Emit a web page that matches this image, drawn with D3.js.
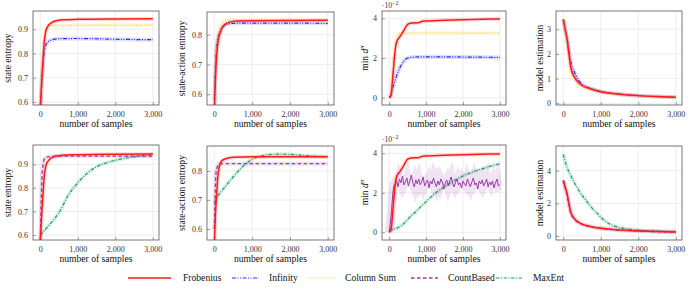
<!DOCTYPE html>
<html>
<head>
<meta charset="utf-8">
<script src="https://cdn.jsdelivr.net/npm/d3@7"></script>
<style>
  body { margin: 0; background: #fff; }
  text { font-family: "Liberation Serif", "Times New Roman", serif; fill: #111; }
</style>
</head>
<body>
<div id="chart"></div>
<script>
// ---- data ----
var xTicks = [0, 1000, 2000, 3000];
var methods = ["Frobenius", "Infinity", "Column Sum", "CountBased", "MaxEnt"];

// row 1 : state entropy
var p1Frob = [[0,0.57],[25,0.65],[50,0.72],[75,0.78],[100,0.84],[150,0.895],[200,0.912],[300,0.927],[400,0.934],[600,0.939],[1000,0.941],[2000,0.943],[3000,0.944]];
var p1Inf = [[0,0.57],[50,0.70],[100,0.80],[150,0.835],[200,0.847],[300,0.856],[500,0.861],[1000,0.862],[2000,0.859],[3000,0.857]];
var p1Col = [[0,0.57],[50,0.72],[100,0.84],[150,0.895],[200,0.91],[300,0.916],[1000,0.917],[3000,0.917]];

// row 1 : state-action entropy
var p2Frob = [[0,0.55],[25,0.64],[50,0.71],[75,0.75],[100,0.78],[150,0.805],[200,0.822],[300,0.836],[400,0.842],[600,0.846],[1000,0.847],[3000,0.848]];
var p2Inf = [[0,0.58],[50,0.75],[100,0.79],[200,0.822],[300,0.833],[500,0.838],[1000,0.839],[3000,0.838]];
var p2Col = [[0,0.55],[50,0.73],[100,0.80],[200,0.838],[300,0.848],[400,0.85],[1000,0.85],[3000,0.85]];

// row 1 : min d^pi (x 10^-2)
var p3Frob = [[0,0],[50,0.15],[100,1.1],[150,2.2],[200,2.8],[300,3.1],[400,3.4],[500,3.7],[600,3.76],[800,3.78],[900,3.85],[1500,3.9],[2000,3.93],[3000,3.97]];
var p3Inf = [[0,0],[50,0.1],[100,0.5],[150,0.8],[200,1.1],[300,1.55],[400,1.85],[500,2.0],[700,2.05],[1000,2.06],[2000,2.05],[3000,2.03]];
var p3Col = [[0,0],[50,0.15],[100,1.1],[150,2.2],[200,2.9],[300,3.25],[1000,3.25],[3000,3.25]];

// row 1 : model estimation
var p4Frob = [[0,3.4],[50,3.0],[100,2.6],[150,2.0],[200,1.45],[300,1.05],[400,0.85],[500,0.72],[700,0.6],[1000,0.47],[1500,0.37],[2000,0.31],[2500,0.27],[3000,0.24]];
var p4Inf = [[0,3.4],[50,3.0],[100,2.65],[150,2.15],[200,1.7],[300,1.25],[400,0.95],[500,0.78],[700,0.62],[1000,0.48],[1500,0.37],[2000,0.31],[3000,0.24]];
var p4Col = [[0,3.4],[100,2.55],[200,1.35],[300,1.0],[400,0.8],[500,0.68],[700,0.57],[1000,0.46],[2000,0.3],[3000,0.24]];

// row 2 : state entropy
var p5Frob = [[0,0.57],[25,0.65],[50,0.72],[75,0.78],[100,0.84],[150,0.895],[200,0.912],[300,0.927],[400,0.934],[600,0.939],[1000,0.941],[2000,0.943],[3000,0.944]];
var p5Count = [[0,0.58],[25,0.75],[50,0.86],[75,0.90],[100,0.92],[150,0.93],[200,0.932],[500,0.935],[3000,0.935]];
var p5Max = [[0,0.6],[250,0.645],[500,0.695],[750,0.77],[1000,0.822],[1250,0.862],[1500,0.89],[1750,0.906],[2000,0.917],[2500,0.932],[3000,0.94]];

// row 2 : state-action entropy
var p6Frob = [[0,0.55],[25,0.64],[50,0.70],[100,0.79],[150,0.825],[200,0.835],[300,0.842],[500,0.847],[1000,0.849],[3000,0.849]];
var p6Count = [[0,0.6],[25,0.74],[50,0.80],[100,0.82],[200,0.825],[3000,0.825]];
var p6Max = [[0,0.69],[100,0.715],[250,0.74],[500,0.78],[750,0.815],[1000,0.84],[1250,0.852],[1500,0.857],[1750,0.858],[2000,0.857],[2500,0.852],[3000,0.849]];

// row 2 : min d^pi (x 10^-2)
var p7Frob = p3Frob;
var p7CountStart = [[0,0],[50,0.8],[100,2.0],[130,2.4]];
var p7CountNoisy = [2.45,2.6,2.3,2.7,2.5,2.85,2.4,2.55,2.75,2.35,2.6,2.9,2.5,2.3,2.65,2.45,2.7,2.4,2.55,2.8,
  2.35,2.5,2.65,2.25,2.6,2.45,2.75,2.5,2.3,2.6,2.4,2.7,2.55,2.2,2.5,2.65,2.35,2.6,2.8,2.45,
  2.3,2.55,2.7,2.4,2.5,2.25,2.6,2.45,2.35,2.7,2.5,2.3,2.55,2.75,2.4,2.5,2.2,2.6,2.45,2.65,
  2.35,2.5,2.7,2.3,2.55,2.4,2.6,2.25,2.5,2.7,2.35,2.4];
var p7Max = [[0,0.1],[100,0.15],[200,0.2],[300,0.3],[400,0.45],[500,0.65],[600,0.85],[700,1.0],[800,1.2],[1000,1.55],[1250,1.98],[1500,2.3],[1750,2.6],[2000,2.85],[2250,3.05],[2500,3.2],[2750,3.35],[3000,3.47]];

// row 2 : model estimation
var p8Frob = p4Frob;
var p8Count = [[0,3.4],[50,2.95],[100,2.5],[150,1.9],[200,1.4],[300,1.02],[500,0.72],[1000,0.47],[2000,0.31],[3000,0.24]];
var p8Max = [[0,5.0],[100,4.2],[200,3.7],[300,3.25],[400,2.85],[500,2.5],[600,2.2],[700,1.9],[800,1.62],[900,1.4],[1000,1.15],[1250,0.72],[1500,0.52],[1750,0.42],[2000,0.36],[2500,0.3],[3000,0.26]];

// ---- styles ----
var style = {
  "Frobenius":  { color: "#ff1a1a", dash: null,            width: 1.5 },
  "Infinity":   { color: "#2b2bff", dash: "4,1.5,1,1.5,1,1.5", width: 1.2 },
  "Column Sum": { color: "#f7cf4a", dash: "1,1.6",         width: 1.2 },
  "CountBased": { color: "#9c3aa8", dash: "3.5,2.5",       width: 1.3 },
  "MaxEnt":     { color: "#1f9e63", dash: "3.5,1.5,1,1.5", width: 1.2 }
};

var p7Count = p7CountStart.concat(p7CountNoisy.map(function (v, i) { return [160 + i * 40, v]; }));

var panels = [
  { box: [33, 159, 11, 105], y: [0.5876, 0.9755], ticks: [0.6, 0.7, 0.8, 0.9], fmt: d3.format(".1f"), label: "state entropy", lx: 8,
    series: [["Infinity", p1Inf], ["Column Sum", p1Col], ["Frobenius", p1Frob]] },
  { box: [207, 334, 12, 105], y: [0.564, 0.876], ticks: [0.6, 0.7, 0.8], fmt: d3.format(".1f"), label: "state-action entropy", lx: 182,
    series: [["Infinity", p2Inf], ["Column Sum", p2Col], ["Frobenius", p2Frob]] },
  { box: [382, 506, 11, 105], y: [-0.37, 4.37], ticks: [0, 2, 4], fmt: d3.format("d"), label: "dpi", lx: 365, exp: true,
    series: [["Infinity", p3Inf], ["Column Sum", p3Col], ["Frobenius", p3Frob]] },
  { box: [556, 682, 11, 105], y: [-0.07, 3.74], ticks: [0, 1, 2, 3], fmt: d3.format("d"), label: "model estimation", lx: 540,
    series: [["Infinity", p4Inf], ["Column Sum", p4Col], ["Frobenius", p4Frob]] },
  { box: [33, 159, 145, 240], y: [0.579, 0.982], ticks: [0.6, 0.7, 0.8, 0.9], fmt: d3.format(".1f"), label: "state entropy", lx: 8,
    series: [["MaxEnt", p5Max], ["CountBased", p5Count], ["Frobenius", p5Frob]] },
  { box: [207, 334, 146, 240], y: [0.562, 0.886], ticks: [0.6, 0.7, 0.8], fmt: d3.format(".1f"), label: "state-action entropy", lx: 182,
    series: [["MaxEnt", p6Max], ["CountBased", p6Count], ["Frobenius", p6Frob]] },
  { box: [382, 506, 145, 240], y: [-0.39, 4.42], ticks: [0, 2, 4], fmt: d3.format("d"), label: "dpi", lx: 365, exp: true,
    series: [["MaxEnt", p7Max], ["CountBased", p7Count], ["Frobenius", p7Frob]] },
  { box: [556, 682, 146, 240], y: [-0.245, 5.51], ticks: [0, 2, 4], fmt: d3.format("d"), label: "model estimation", lx: 540,
    series: [["MaxEnt", p8Max], ["CountBased", p8Count], ["Frobenius", p8Frob]] }
];

var svg = d3.select("#chart").append("svg")
  .attr("width", 690)
  .attr("height", 293);

var xFmt = function (d) { return d === 0 ? "0" : d3.format(",")(d); };

panels.forEach(function (p, i) {
  var x = d3.scaleLinear().domain([-195, 3165]).range([p.box[0], p.box[1]]);
  var y = d3.scaleLinear().domain(p.y).range([p.box[3], p.box[2]]);
  var g = svg.append("g");

  var clipId = "clip" + i;
  g.append("clipPath").attr("id", clipId).append("rect")
    .attr("x", p.box[0]).attr("y", p.box[2])
    .attr("width", p.box[1] - p.box[0]).attr("height", p.box[3] - p.box[2]);

  // grid
  g.selectAll(".gx").data(xTicks).enter().append("line")
    .attr("x1", function (d) { return x(d); }).attr("x2", function (d) { return x(d); })
    .attr("y1", p.box[2]).attr("y2", p.box[3])
    .style("stroke", "#e8e8e8").style("stroke-width", 0.8);
  g.selectAll(".gy").data(p.ticks).enter().append("line")
    .attr("x1", p.box[0]).attr("x2", p.box[1])
    .attr("y1", function (d) { return y(d); }).attr("y2", function (d) { return y(d); })
    .style("stroke", "#e8e8e8").style("stroke-width", 0.8);

  // axes
  var xa = g.append("g").attr("transform", "translate(0," + p.box[3] + ")")
    .call(d3.axisBottom(x).tickValues(xTicks).tickFormat(xFmt).tickSizeInner(-3).tickSizeOuter(0).tickPadding(6));
  var ya = g.append("g").attr("transform", "translate(" + p.box[0] + ",0)")
    .call(d3.axisLeft(y).tickValues(p.ticks).tickFormat(p.fmt).tickSizeInner(-3).tickSizeOuter(0).tickPadding(5));
  [xa, ya].forEach(function (a) {
    a.attr("font-family", null);
    a.select(".domain").remove();
    a.selectAll("line").style("stroke", "#666").style("stroke-width", 0.6);
    a.selectAll("text").style("font-family", "'Liberation Serif', serif").style("font-size", "8px").style("fill", "#333");
  });

  // series
  var smooth = d3.line()
    .x(function (d) { return x(d[0]); })
    .y(function (d) { return y(d[1]); })
    .curve(d3.curveMonotoneX);
  var straight = d3.line()
    .x(function (d) { return x(d[0]); })
    .y(function (d) { return y(d[1]); });
  var plot = g.append("g").attr("clip-path", "url(#" + clipId + ")");
  p.series.forEach(function (s) {
    var st = style[s[0]];
    var noisy = s[1] === p7Count;
    var path = noisy ? straight : smooth;
    // shaded spread
    plot.append("path").datum(s[1])
      .attr("d", path)
      .style("fill", "none")
      .style("stroke", st.color)
      .style("stroke-opacity", noisy ? 0.14 : 0.15)
      .style("stroke-width", noisy ? 9 : 4);
    plot.append("path").datum(s[1])
      .attr("d", path)
      .style("fill", "none")
      .style("stroke", st.color)
      .style("stroke-width", noisy ? 1.0 : st.width)
      .style("stroke-dasharray", noisy ? null : st.dash);
  });

  // frame
  g.append("rect")
    .attr("x", p.box[0]).attr("y", p.box[2])
    .attr("width", p.box[1] - p.box[0]).attr("height", p.box[3] - p.box[2])
    .style("fill", "none").style("stroke", "#555").style("stroke-width", 0.8);

  // x label
  g.append("text")
    .attr("x", (p.box[0] + p.box[1]) / 2).attr("y", p.box[3] + 22)
    .attr("text-anchor", "middle")
    .style("font-size", "9.6px")
    .text("number of samples");

  // y label
  var cy = (p.box[2] + p.box[3]) / 2;
  var yl = g.append("text")
    .attr("transform", "translate(" + (p.lx + 3) + "," + cy + ") rotate(-90)")
    .attr("text-anchor", "middle")
    .style("font-size", "9.6px");
  if (p.label === "dpi") {
    yl.append("tspan").text("min ");
    yl.append("tspan").style("font-style", "italic").text("d");
    yl.append("tspan").attr("dy", -4).style("font-size", "7px").style("font-style", "italic").text("π");
  } else {
    yl.text(p.label);
  }

  if (p.exp) {
    var ex = g.append("text").attr("x", p.box[0]).attr("y", p.box[2] - 3)
      .style("font-size", "7.5px").style("fill", "#333");
    ex.append("tspan").text("·10");
    ex.append("tspan").attr("dy", -3).style("font-size", "6px").text("−2");
  }
});

// legend
var legX = [128, 232, 308, 411, 496];
var leg = svg.append("g");
methods.forEach(function (m, i) {
  var st = style[m];
  var item = leg.append("g").attr("transform", "translate(" + legX[i] + ",278)");
  item.append("line")
    .attr("x1", 0).attr("x2", i === 0 ? 43 : 27).attr("y1", 0).attr("y2", 0)
    .style("stroke", st.color).style("stroke-width", st.width)
    .style("stroke-dasharray", st.dash);
  item.append("text")
    .attr("x", i === 0 ? 55 : 37).attr("y", 3.3)
    .style("font-size", "9.6px")
    .text(m);
});
</script>
</body>
</html>
